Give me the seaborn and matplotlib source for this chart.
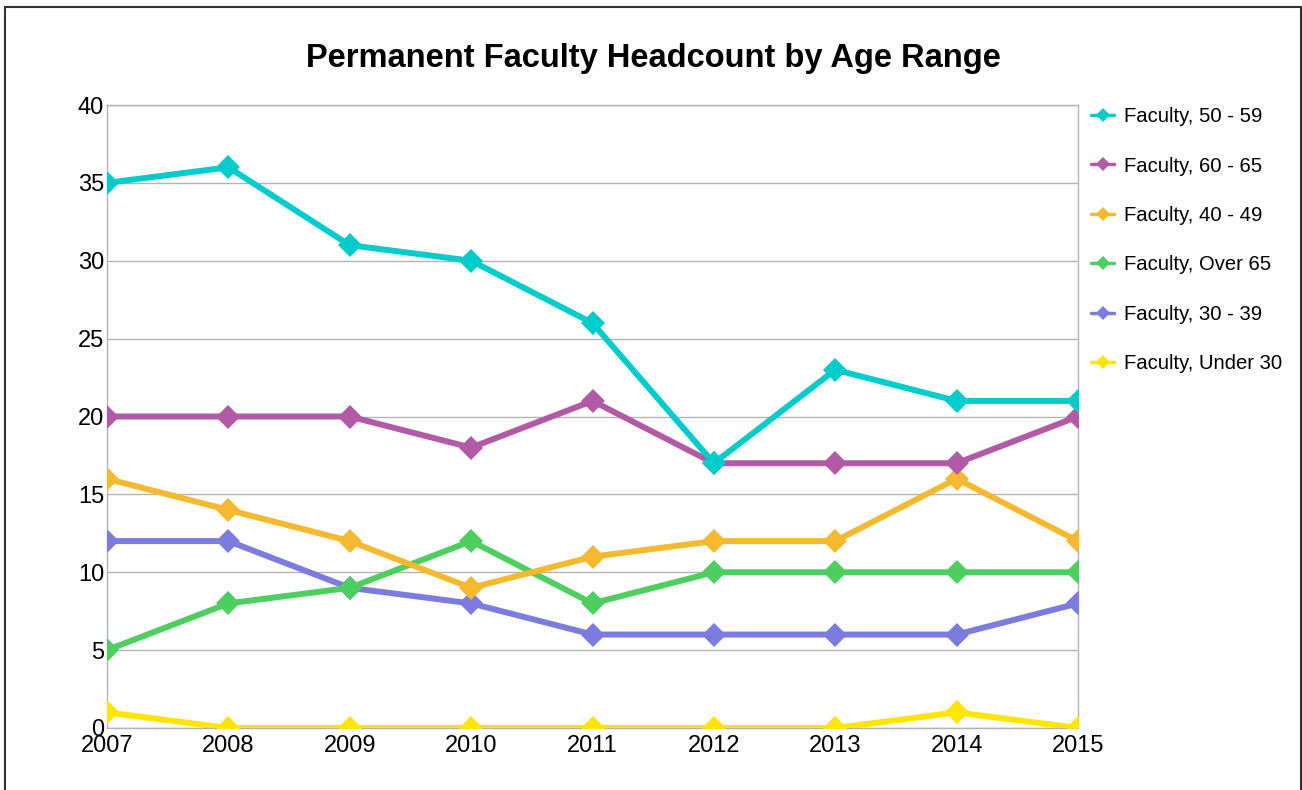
import matplotlib
matplotlib.use("Agg")
import matplotlib.pyplot as plt
from matplotlib.lines import Line2D
from matplotlib.patches import Rectangle
import seaborn as sns
import pandas as pd

years = [2007, 2008, 2009, 2010, 2011, 2012, 2013, 2014, 2015]
series_names = ["Faculty, 50 - 59", "Faculty, 60 - 65", "Faculty, 40 - 49",
                "Faculty, Over 65", "Faculty, 30 - 39", "Faculty, Under 30"]
f_50_59 = [35, 36, 31, 30, 26, 17, 23, 21, 21]
f_60_65 = [20, 20, 20, 18, 21, 17, 17, 17, 20]
f_40_49 = [16, 14, 12, 9, 11, 12, 12, 16, 12]
f_over65 = [5, 8, 9, 12, 8, 10, 10, 10, 10]
f_30_39 = [12, 12, 9, 8, 6, 6, 6, 6, 8]
f_under30 = [1, 0, 0, 0, 0, 0, 0, 1, 0]
colors = ["#00CCCC", "#B35AA6", "#F5B930", "#4CCF5E", "#7B7BE0", "#FFE500"]
y_ticks = [0, 5, 10, 15, 20, 25, 30, 35, 40]

values = [f_50_59, f_60_65, f_40_49, f_over65, f_30_39, f_under30]
rows = []
for name, vals in zip(series_names, values):
    for yr, v in zip(years, vals):
        rows.append({"year": yr, "count": v, "series": name})
df = pd.DataFrame(rows)

sns.set_theme(style="white")
plt.rcParams["font.family"] = ["Liberation Sans", "DejaVu Sans"]
plt.rcParams["text.color"] = "black"
plt.rcParams["xtick.color"] = "black"
plt.rcParams["ytick.color"] = "black"

fig = plt.figure(figsize=(13.02, 7.9), dpi=100)
ax = fig.add_axes([107/1302, 62/790, (1078-107)/1302, (728-105)/790])

palette = dict(zip(series_names, colors))
# draw in reverse order so the first series sits on top
sns.lineplot(data=df, x="year", y="count", hue="series",
             hue_order=series_names[::-1], palette=palette,
             marker="D", markersize=12.5, markeredgewidth=0,
             linewidth=4.3, legend=False, ax=ax, zorder=3)

ax.set_xlim(years[0], years[-1])
ax.set_ylim(0, 40)
ax.set_yticks(y_ticks)
ax.set_xticks(years)
ax.set_xticklabels([str(y) for y in years])
ax.tick_params(axis="both", length=0, labelsize=17, labelcolor="black")
ax.tick_params(axis="y", pad=2)
ax.tick_params(axis="x", pad=5)
ax.yaxis.grid(True, color="#b3b3b3", linewidth=1)
ax.xaxis.grid(False)
ax.set_axisbelow(True)
for s in ax.spines.values():
    s.set_color("#b3b3b3")
    s.set_linewidth(1)
ax.set_xlabel("")
ax.set_ylabel("")

fig.text(653/1302, 1 - 58/790, "Permanent Faculty Headcount by Age Range",
         ha="center", va="center", fontsize=23.5, fontweight="bold",
         color="black")

handles = [Line2D([0], [0], color=c, linewidth=2.5, marker="D",
                  markersize=7, markeredgewidth=0) for c in colors]
fig.legend(handles, series_names, loc="upper left",
           bbox_to_anchor=(1083/1302, 1 - 99/790), frameon=False,
           fontsize=14.6, handlelength=1.15, handletextpad=0.45,
           labelspacing=1.5, borderaxespad=0, labelcolor="black")

fig.add_artist(Rectangle((4.5/1302, -0.05), (1301 - 4.5)/1302, 1.05 - 7/790,
                         transform=fig.transFigure, fill=False,
                         edgecolor="#333333", linewidth=1.5))

fig.savefig("out.png", dpi=100)
